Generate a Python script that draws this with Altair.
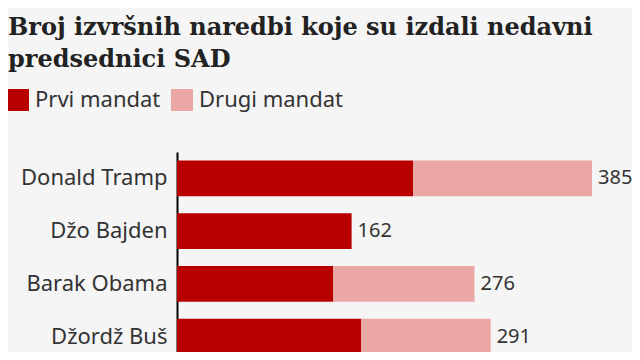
import altair as alt
import pandas as pd

presidents = ["Donald Tramp", "Džo Bajden", "Barak Obama", "Džordž Buš"]
first_term = [219, 162, 145, 171]
second_term = [166, 0, 131, 120]
totals = [385, 162, 276, 291]
terms = ["Prvi mandat", "Drugi mandat"]

rows = []
for p, a, b in zip(presidents, first_term, second_term):
    rows.append({"president": p, "term": terms[0], "value": a, "ord": 0})
    if b > 0:
        rows.append({"president": p, "term": terms[1], "value": b, "ord": 1})
df = pd.DataFrame(rows)
tot = pd.DataFrame({"president": presidents, "total": totals})

ysc = alt.Scale(domain=presidents, range=[0, 211], paddingInner=0.32, paddingOuter=0.16)
xsc = alt.Scale(domain=[0, 385], nice=False, zero=True)

bars = alt.Chart(df).mark_bar().encode(
    y=alt.Y("president:N", scale=ysc, sort=presidents,
            axis=alt.Axis(title=None, ticks=False, grid=False, domain=True,
                          domainColor="#000000", domainWidth=2,
                          labelFont="Noto Sans", labelFontSize=22, labelColor="#333333",
                          labelPadding=10)),
    x=alt.X("value:Q", stack="zero", scale=xsc, axis=None),
    color=alt.Color("term:N", scale=alt.Scale(domain=terms, range=["#b80000", "#eba6a6"]),
                    legend=alt.Legend(title=None, orient="none", legendX=-170, legendY=-63,
                                      direction="horizontal", symbolType="square",
                                      symbolSize=484, symbolStrokeWidth=0, labelFont="Noto Sans",
                                      labelFontSize=22, labelColor="#333333", labelOffset=6,
                                      columnPadding=10, symbolOpacity=1)),
    order=alt.Order("ord:Q"),
)

labels = alt.Chart(tot).mark_text(align="left", baseline="middle", dx=6,
                                  font="Noto Sans", fontSize=20, color="#333333").encode(
    y=alt.Y("president:N", scale=ysc, sort=presidents),
    x=alt.X("total:Q", scale=xsc),
    text=alt.Text("total:Q"),
)

chart = alt.layer(bars, labels).properties(
    width=415, height=200,
    autosize=alt.AutoSizeParams(type="none"),
    padding={"left": 169, "top": 144, "right": 40, "bottom": 0},
    background="#f5f5f5",
    title=alt.TitleParams(["Broj izvršnih naredbi koje su izdali nedavni", "predsednici SAD"],
                          anchor="start", dx=1, font="DejaVu Serif", fontSize=24,
                          fontWeight="bold", color="#222222", lineHeight=32, offset=17),
).configure_view(stroke=None)

chart.save("out.html", embed_options={"renderer": "svg", "actions": False})
